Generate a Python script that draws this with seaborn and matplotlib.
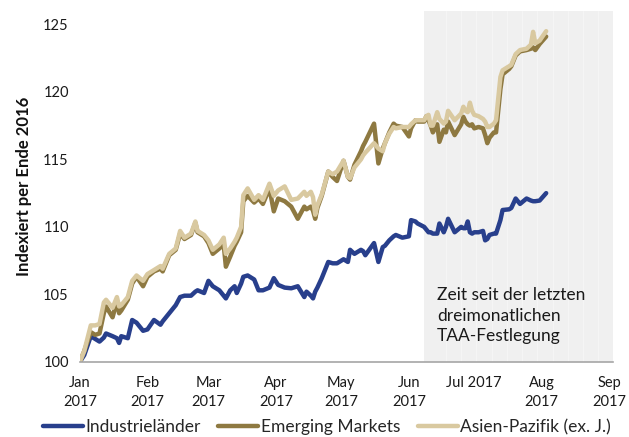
import matplotlib
matplotlib.use("Agg")
import matplotlib.pyplot as plt
import matplotlib.dates as mdates
from matplotlib.lines import Line2D
import seaborn as sns
import pandas as pd

# ---------------- data ----------------
dates = [
    "01-01", "01-03", "01-06", "01-08", "01-10", "01-12", "01-13", "01-16", "01-18", "01-19",
    "01-20", "01-23", "01-25", "01-27", "01-30", "02-01", "02-04", "02-07", "02-08", "02-11",
    "02-14", "02-16", "02-18", "02-21", "02-23", "02-24", "02-27", "03-01", "03-03", "03-06",
    "03-08", "03-09", "03-11", "03-13", "03-14", "03-16", "03-17", "03-19", "03-22", "03-24",
    "03-26", "03-29", "03-31", "04-02", "04-05", "04-08", "04-11", "04-14", "04-15", "04-17",
    "04-18", "04-19", "04-20", "04-22", "04-25", "04-27", "04-29", "05-02", "05-04", "05-05",
    "05-07", "05-10", "05-11", "05-12", "05-16", "05-18", "05-20", "05-21", "05-23", "05-25",
    "05-26", "05-29", "06-01", "06-02", "06-04", "06-05", "06-08", "06-09", "06-10", "06-11",
    "06-12", "06-14", "06-15", "06-17", "06-18", "06-19", "06-22", "06-25", "06-26", "06-27",
    "06-28", "06-29", "06-30", "07-01", "07-03", "07-05", "07-06", "07-07", "07-08", "07-10",
    "07-11", "07-13", "07-14", "07-17", "07-18", "07-20", "07-22", "07-25", "07-27", "07-28",
    "07-29", "07-31", "08-03",
]

industrielaender = [
    100.0, 100.5, 101.9, 101.7, 101.5, 101.8, 102.1, 101.9, 101.75, 101.4,
    101.9, 101.75, 103.1, 102.9, 102.3, 102.4, 103.1, 102.75, 103.0, 103.6,
    104.2, 104.8, 104.9, 104.9, 105.2, 105.3, 105.1, 106.0, 105.6, 105.3,
    104.9, 104.7, 105.3, 105.6, 105.1, 105.8, 106.3, 106.4, 106.1, 105.3,
    105.3, 105.5, 106.2, 105.7, 105.5, 105.45, 105.6, 104.8, 105.2, 104.9,
    104.7, 105.2, 105.5, 106.2, 107.4, 107.3, 107.3, 107.6, 107.4, 108.3,
    108.0, 108.3, 108.2, 107.9, 108.8, 107.4, 108.5, 108.6, 109.0, 109.3,
    109.4, 109.2, 109.3, 110.5, 110.4, 110.25, 110.0, 109.8, 109.6, 109.6,
    109.5, 109.5, 110.25, 109.6, 110.0, 110.6, 109.6, 110.0, 109.9, 109.9,
    110.4, 109.6, 109.5, 109.6, 109.6, 109.7, 109.0, 109.1, 109.4, 109.5,
    109.5, 110.5, 111.25, 111.3, 111.4, 112.1, 111.7, 112.1, 111.95, 111.9,
    111.9, 111.95, 112.5,
]

emerging_markets = [
    100.0, 100.8, 102.2, 102.0, 102.1, 103.6, 104.1, 103.3, 104.5, 103.6,
    103.8, 104.6, 105.8, 106.3, 105.6, 106.3, 106.7, 106.9, 106.7, 107.9,
    108.3, 109.5, 109.1, 109.4, 110.3, 109.6, 109.3, 108.8, 108.0, 108.4,
    108.7, 107.05, 107.8, 108.6, 108.9, 109.6, 111.9, 112.3, 111.8, 112.1,
    111.7, 112.85, 111.15, 112.1, 111.9, 111.5, 110.6, 111.5, 111.3, 111.5,
    111.2, 110.6, 111.4, 112.3, 114.1, 113.7, 113.4, 114.9, 113.7, 113.5,
    114.6, 115.6, 116.0, 116.3, 117.65, 114.7, 115.8, 116.2, 117.0, 117.65,
    117.5, 117.4, 116.7, 117.3, 117.9, 117.8, 117.8, 118.2, 117.9, 117.5,
    117.0, 117.6, 116.3, 117.2, 117.0, 117.8, 116.8, 117.6, 118.15, 117.8,
    117.6, 117.5, 117.6, 117.3, 117.4, 117.3, 116.8, 116.2, 116.6, 117.0,
    117.0, 120.2, 121.3, 121.7, 121.9, 122.7, 123.0, 123.1, 123.2, 123.3,
    123.1, 123.55, 124.1,
]

asien_pazifik = [
    100.0, 100.8, 102.7, 102.7, 102.8, 104.4, 104.6, 104.0, 104.8, 104.1,
    104.2, 104.8, 106.0, 106.4, 106.0, 106.5, 106.8, 107.1, 106.9, 108.0,
    108.4, 109.7, 109.2, 109.5, 110.4, 109.7, 109.4, 109.0, 108.3, 108.7,
    109.2, 108.0, 108.4, 108.9, 109.2, 110.0, 112.35, 112.85, 112.0, 112.35,
    112.0, 113.2, 112.3, 112.7, 113.0, 112.0, 112.1, 112.6, 112.3, 112.6,
    112.2, 110.9, 111.6, 112.4, 114.1, 113.9, 114.1, 114.9, 113.7, 113.6,
    114.4, 115.0, 115.3, 115.5, 116.2, 115.8, 115.6, 116.2, 116.9, 117.4,
    117.3, 117.4, 117.4, 117.6, 117.9, 117.9, 117.9, 118.2, 118.3, 117.5,
    117.5, 118.5, 118.0, 117.65, 117.8, 118.6, 117.9, 118.4, 118.9, 118.6,
    118.5, 119.2, 118.6, 118.3, 118.2, 118.0, 117.8, 117.4, 117.4, 117.65,
    117.9, 121.1, 121.6, 121.9, 122.0, 122.8, 123.1, 123.2, 123.5, 124.45,
    123.6, 123.8, 124.5,
]

series_names = ["Industrieländer", "Emerging Markets", "Asien-Pazifik (ex. J.)"]
series_colors = ["#283F8C", "#8E7941", "#D9C9A0"]

month_ticks = ["2017-01-01", "2017-02-01", "2017-03-01", "2017-04-01", "2017-05-01",
               "2017-06-01", "2017-07-01", "2017-08-01", "2017-09-01"]
month_labels = ["Jan\n2017", "Feb\n2017", "Mar\n2017", "Apr\n2017", "May\n2017",
                "Jun\n2017", "Jul 2017", "Aug\n2017", "Sep\n2017"]
y_ticks = [100, 105, 110, 115, 120, 125]

shade_start = "2017-06-08"
annotation = "Zeit seit der letzten\ndreimonatlichen\nTAA-Festlegung"

# ---------------- build frame ----------------
dt = pd.to_datetime(["2017-" + d for d in dates])
df = pd.concat([
    pd.DataFrame({"Datum": dt, "Wert": vals, "Serie": name})
    for name, vals in zip(series_names, [industrielaender, emerging_markets, asien_pazifik])
], ignore_index=True)

# ---------------- plot ----------------
sns.set_theme(style="white")
plt.rcParams["font.family"] = ["Lato", "DejaVu Sans"]

fig = plt.figure(figsize=(6.29, 4.37), dpi=100)
ax = fig.add_axes([0.127, 0.172, 0.848, 0.803])

x_end = pd.Timestamp("2017-01-01") + pd.Timedelta(days=244.8)
ax.axvspan(pd.Timestamp(shade_start), x_end, color="#F0F0F0", lw=0, zorder=0)
for wk in pd.date_range("2017-06-18", "2017-08-31", freq="7D"):
    ax.axvline(wk, color="white", lw=0.6, alpha=0.45, zorder=0.5)

sns.lineplot(data=df, x="Datum", y="Wert", hue="Serie", hue_order=series_names,
             palette=dict(zip(series_names, series_colors)), linewidth=3.2,
             legend=False, ax=ax, estimator=None, sort=False)

ax.set_xlim(pd.Timestamp("2017-01-01"), x_end)
ax.set_ylim(100, 126)
ax.set_yticks(y_ticks)
ax.set_yticklabels([str(v) for v in y_ticks], fontsize=10.5, color="#1a1a1a")
ax.set_xticks(pd.to_datetime(month_ticks))
ax.set_xticklabels(month_labels, fontsize=10.5, color="#1a1a1a", linespacing=1.45)
ax.tick_params(axis="x", length=4, width=1, color="#A6A6A6", direction="out", pad=6)
ax.tick_params(axis="y", length=0, pad=8)

for s in ["top", "right", "left"]:
    ax.spines[s].set_visible(False)
ax.spines["bottom"].set_color("#A6A6A6")
ax.spines["bottom"].set_linewidth(1.2)
ax.grid(False)

ax.set_xlabel("")
ax.set_ylabel("Indexiert per Ende 2016", fontsize=12, fontweight="bold", color="#111111", labelpad=8)

ax.text(pd.Timestamp("2017-06-14"), 103.4, annotation, fontsize=12.5, ha="left", va="center",
        linespacing=1.35, color="#1a1a1a")

handles = [Line2D([0], [0], color=c, lw=3.2) for c in series_colors]
fig.legend(handles, series_names, loc="center", bbox_to_anchor=(0.52, 0.022), ncol=3,
           frameon=False, fontsize=12.5, handlelength=2.3, handletextpad=0.15,
           columnspacing=1.0, borderpad=0.1)

fig.savefig("out.png", dpi=100)
